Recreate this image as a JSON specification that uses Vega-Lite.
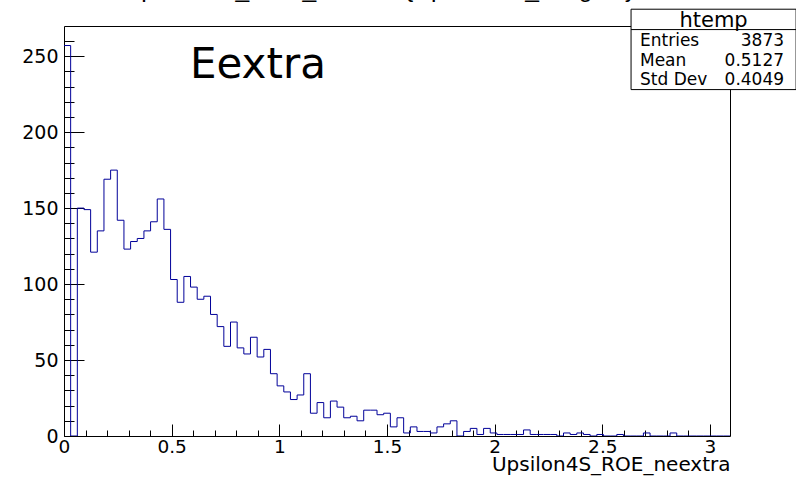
{
  "$schema": "https://vega.github.io/schema/vega-lite/v6.json",
  "width": 666,
  "height": 410,
  "autosize": {"type": "none"},
  "padding": {"left": 64, "top": 26, "right": 66, "bottom": 41},
  "background": "white",
  "config": {"view": {"stroke": "black", "strokeWidth": 1}, "font": "DejaVu Sans"},
  "datasets": {
    "hist": [
      {"edge": 0, "count": 257}, {"edge": 0.0309, "count": 0}, {"edge": 0.0619, "count": 150}, {"edge": 0.0928, "count": 149}, {"edge": 0.1237, "count": 121},
      {"edge": 0.1547, "count": 135}, {"edge": 0.1856, "count": 169}, {"edge": 0.2165, "count": 175}, {"edge": 0.2474, "count": 142}, {"edge": 0.2784, "count": 123},
      {"edge": 0.3093, "count": 128}, {"edge": 0.3402, "count": 130}, {"edge": 0.3712, "count": 135}, {"edge": 0.4021, "count": 141}, {"edge": 0.433, "count": 156},
      {"edge": 0.464, "count": 136}, {"edge": 0.4949, "count": 103}, {"edge": 0.5258, "count": 88}, {"edge": 0.5567, "count": 105}, {"edge": 0.5877, "count": 98},
      {"edge": 0.6186, "count": 90}, {"edge": 0.6495, "count": 92}, {"edge": 0.6805, "count": 80}, {"edge": 0.7114, "count": 72}, {"edge": 0.7423, "count": 59},
      {"edge": 0.7733, "count": 75}, {"edge": 0.8042, "count": 58}, {"edge": 0.8351, "count": 54}, {"edge": 0.866, "count": 65}, {"edge": 0.897, "count": 52},
      {"edge": 0.9279, "count": 57}, {"edge": 0.9588, "count": 41}, {"edge": 0.9898, "count": 33}, {"edge": 1.0207, "count": 29}, {"edge": 1.0516, "count": 24},
      {"edge": 1.0826, "count": 27}, {"edge": 1.1135, "count": 41}, {"edge": 1.1444, "count": 15}, {"edge": 1.1753, "count": 22}, {"edge": 1.2063, "count": 12},
      {"edge": 1.2372, "count": 23}, {"edge": 1.2681, "count": 19}, {"edge": 1.2991, "count": 12}, {"edge": 1.33, "count": 13}, {"edge": 1.3609, "count": 10},
      {"edge": 1.3919, "count": 17}, {"edge": 1.4228, "count": 17}, {"edge": 1.4537, "count": 14}, {"edge": 1.4846, "count": 15}, {"edge": 1.5156, "count": 6},
      {"edge": 1.5465, "count": 12}, {"edge": 1.5774, "count": 2}, {"edge": 1.6084, "count": 6}, {"edge": 1.6393, "count": 3}, {"edge": 1.6702, "count": 3},
      {"edge": 1.7012, "count": 2}, {"edge": 1.7321, "count": 6}, {"edge": 1.763, "count": 8}, {"edge": 1.7939, "count": 10}, {"edge": 1.8249, "count": 0},
      {"edge": 1.8558, "count": 3}, {"edge": 1.8867, "count": 5}, {"edge": 1.9177, "count": 1}, {"edge": 1.9486, "count": 5}, {"edge": 1.9795, "count": 2},
      {"edge": 2.0105, "count": 1}, {"edge": 2.0414, "count": 1}, {"edge": 2.0723, "count": 1}, {"edge": 2.1032, "count": 1}, {"edge": 2.1342, "count": 4},
      {"edge": 2.1651, "count": 1}, {"edge": 2.196, "count": 1}, {"edge": 2.227, "count": 1}, {"edge": 2.2579, "count": 1}, {"edge": 2.2888, "count": 0},
      {"edge": 2.3198, "count": 2}, {"edge": 2.3507, "count": 1}, {"edge": 2.3816, "count": 2}, {"edge": 2.4125, "count": 1}, {"edge": 2.4435, "count": 0},
      {"edge": 2.4744, "count": 1}, {"edge": 2.5053, "count": 0}, {"edge": 2.5363, "count": 0}, {"edge": 2.5672, "count": 1}, {"edge": 2.5981, "count": 0},
      {"edge": 2.6291, "count": 0}, {"edge": 2.66, "count": 0}, {"edge": 2.6909, "count": 2}, {"edge": 2.7218, "count": 0}, {"edge": 2.7528, "count": 0},
      {"edge": 2.7837, "count": 0}, {"edge": 2.8146, "count": 2}, {"edge": 2.8456, "count": 0}, {"edge": 2.8765, "count": 0}, {"edge": 2.9074, "count": 0},
      {"edge": 2.9384, "count": 0}, {"edge": 2.9693, "count": 0}, {"edge": 3.0002, "count": 0}, {"edge": 3.0311, "count": 0}, {"edge": 3.0621, "count": 0},
      {"edge": 3.093, "count": 0}
    ],
    "stats": [{"title": "htemp", "names": ["Entries", "Mean", "Std Dev"], "vals": ["3873", "0.5127", "0.4049"]}],
    "note": [{"label": "Eextra", "heading": "Upsilon4S_ROE_neextra {Upsilon4S_isSignal}"}]
  },
  "layer": [
    {
      "data": {"name": "hist"},
      "mark": {"type": "line", "interpolate": "step-after", "color": "#000099", "strokeWidth": 1, "clip": true},
      "encoding": {
        "x": {"field": "edge", "type": "quantitative", "scale": {"domain": [0, 3.093], "nice": false, "zero": false},
          "axis": {"orient": "bottom", "values": [0, 0.5, 1, 1.5, 2, 2.5, 3], "format": "~g", "ticks": false, "domain": false, "grid": false,
            "labelFontSize": 18.5, "labelPadding": 1, "labelColor": "black", "labelFont": "DejaVu Sans", "labelOverlap": false, "labelFlush": false,
            "title": "Upsilon4S_ROE_neextra", "titleFont": "DejaVu Sans", "titleFontSize": 20, "titleFontWeight": "normal", "titleColor": "black",
            "titleAnchor": "end", "titleAlign": "right", "titleBaseline": "alphabetic", "titleY": 34}},
        "y": {"field": "count", "type": "quantitative", "scale": {"domain": [0, 269.85], "nice": false, "zero": true},
          "axis": {"orient": "left", "values": [0, 50, 100, 150, 200, 250], "ticks": false, "domain": false, "grid": false,
            "labelFontSize": 19, "labelPadding": 6, "labelColor": "black", "labelFont": "DejaVu Sans", "labelOverlap": false, "labelFlush": false, "title": null}}
      }
    },
    {
      "data": {"name": "hist"},
      "mark": {"type": "line", "strokeOpacity": 0},
      "encoding": {
        "x": {"field": "edge", "type": "quantitative",
          "axis": {"orient": "bottom", "values": [0, 0.5, 1, 1.5, 2, 2.5, 3], "labels": false, "ticks": true, "tickSize": -12, "tickColor": "black", "tickWidth": 1, "domain": false, "grid": false, "title": null}},
        "y": {"field": "count", "type": "quantitative",
          "axis": {"orient": "left", "values": [0, 50, 100, 150, 200, 250], "labels": false, "ticks": true, "tickSize": -20, "tickColor": "black", "tickWidth": 1, "domain": false, "grid": false, "title": null}}
      }
    },
    {
      "data": {"name": "hist"},
      "mark": {"type": "line", "strokeOpacity": 0},
      "encoding": {
        "x": {"field": "edge", "type": "quantitative",
          "axis": {"orient": "bottom", "values": [0.1, 0.2, 0.3, 0.4, 0.6, 0.7, 0.8, 0.9, 1.1, 1.2, 1.3, 1.4, 1.6, 1.7, 1.8, 1.9, 2.1, 2.2, 2.3, 2.4, 2.6, 2.7, 2.8, 2.9], "labels": false, "ticks": true, "tickSize": -6, "tickColor": "black", "tickWidth": 1, "domain": false, "grid": false, "title": null}},
        "y": {"field": "count", "type": "quantitative",
          "axis": {"orient": "left", "values": [10, 20, 30, 40, 60, 70, 80, 90, 110, 120, 130, 140, 160, 170, 180, 190, 210, 220, 230, 240, 260], "labels": false, "ticks": true, "tickSize": -10, "tickColor": "black", "tickWidth": 1, "domain": false, "grid": false, "title": null}}
      }
    },
    {
      "data": {"name": "note"},
      "mark": {"type": "text", "align": "left", "baseline": "alphabetic", "font": "DejaVu Sans", "fontSize": 42, "color": "black", "clip": false},
      "encoding": {
        "x": {"datum": 0.585, "type": "quantitative", "axis": null},
        "y": {"datum": 235.3, "type": "quantitative", "axis": null},
        "text": {"field": "label", "type": "nominal"}
      }
    },
    {
      "data": {"name": "note"},
      "mark": {"type": "text", "align": "left", "baseline": "alphabetic", "font": "Liberation Sans", "fontSize": 24.6, "color": "black", "clip": false},
      "encoding": {
        "x": {"datum": 0.2759, "type": "quantitative", "axis": null},
        "y": {"datum": 288.9, "type": "quantitative", "axis": null},
        "text": {"field": "heading", "type": "nominal"}
      }
    },
    {
      "data": {"name": "stats"},
      "mark": {"type": "rect", "fill": "white", "stroke": "black", "strokeWidth": 1, "clip": false},
      "encoding": {
        "x": {"datum": 2.6335, "type": "quantitative", "axis": null},
        "x2": {"datum": 3.4},
        "y": {"datum": 280.9, "type": "quantitative", "axis": null},
        "y2": {"datum": 228.0}
      }
    },
    {
      "data": {"name": "stats"},
      "mark": {"type": "rule", "color": "black", "strokeWidth": 1, "clip": false},
      "encoding": {
        "x": {"datum": 2.6335, "type": "quantitative", "axis": null},
        "x2": {"datum": 3.4},
        "y": {"datum": 267.5, "type": "quantitative", "axis": null}
      }
    },
    {
      "data": {"name": "stats"},
      "mark": {"type": "text", "align": "center", "baseline": "middle", "font": "DejaVu Sans", "fontSize": 21, "color": "black", "clip": false},
      "encoding": {
        "x": {"datum": 3.0167, "type": "quantitative", "axis": null},
        "y": {"datum": 273.2, "type": "quantitative", "axis": null},
        "text": {"field": "title", "type": "nominal"}
      }
    },
    {
      "data": {"name": "stats"},
      "mark": {"type": "text", "align": "left", "baseline": "middle", "font": "DejaVu Sans", "fontSize": 17, "lineHeight": 19.7, "color": "black", "clip": false},
      "encoding": {
        "x": {"datum": 2.675, "type": "quantitative", "axis": null},
        "y": {"datum": 260.0, "type": "quantitative", "axis": null},
        "text": {"field": "names", "type": "nominal"}
      }
    },
    {
      "data": {"name": "stats"},
      "mark": {"type": "text", "align": "right", "baseline": "middle", "font": "DejaVu Sans", "fontSize": 17, "lineHeight": 19.7, "color": "black", "clip": false},
      "encoding": {
        "x": {"datum": 3.344, "type": "quantitative", "axis": null},
        "y": {"datum": 260.0, "type": "quantitative", "axis": null},
        "text": {"field": "vals", "type": "nominal"}
      }
    }
  ],
  "resolve": {"axis": {"x": "independent", "y": "independent"}}
}
